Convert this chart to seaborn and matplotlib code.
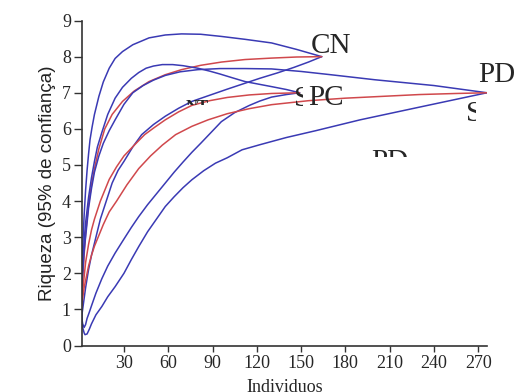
import numpy as np
import pandas as pd
import matplotlib
matplotlib.use("Agg")
import matplotlib.pyplot as plt
import seaborn as sns
from matplotlib.transforms import Bbox, TransformedBbox

# rarefaction curves (individuals, richness)
cn_x = [1, 2, 3, 4, 6, 8, 10, 13, 17, 22, 29, 37, 47, 58, 69, 82, 96, 112, 130, 147, 164]
cn_mean = [1.0, 1.8, 2.5, 3.1, 3.9, 4.45, 4.9, 5.45, 6.0, 6.4, 6.76, 7.05, 7.31, 7.5,
           7.64, 7.76, 7.85, 7.92, 7.96, 7.99, 8.0]
cn_up_x = [1, 1.5, 2, 3, 4, 5, 6, 7, 8.4, 10, 13, 16, 20, 24, 29, 36, 47, 58, 69, 82,
           96, 112, 130, 147, 164]
cn_up = [1.4, 2.0, 2.7, 3.6, 4.3, 4.85, 5.3, 5.7, 6.05, 6.4, 6.9, 7.3, 7.68, 7.95, 8.14,
         8.33, 8.52, 8.6, 8.63, 8.62, 8.56, 8.48, 8.38, 8.2, 8.0]
cn_lo_x = [1, 2, 3, 4, 6, 8, 11, 14, 18, 22, 26, 30, 36, 42, 50, 58, 67, 76, 88, 100,
           111, 122, 134, 145, 155, 164]
cn_lo = [0.7, 1.0, 1.3, 1.6, 2.1, 2.5, 3.0, 3.5, 4.0, 4.5, 4.85, 5.1, 5.5, 5.84, 6.12,
         6.35, 6.57, 6.76, 6.93, 7.1, 7.25, 7.4, 7.55, 7.7, 7.85, 8.0]

pc_x = [1, 2, 3, 4, 6, 8, 10, 14, 20, 25, 30, 37, 44, 51, 58, 67, 76, 88, 100, 115, 130, 149]
pc_mean = [1.0, 1.5, 1.9, 2.3, 2.8, 3.2, 3.5, 4.0, 4.6, 4.95, 5.25, 5.55, 5.84, 6.05,
           6.25, 6.47, 6.65, 6.78, 6.87, 6.94, 6.98, 7.0]
pc_up_x = [1, 2, 3, 4, 6, 8, 10, 12, 15, 19, 24, 29, 35, 40, 45, 50, 56, 63, 70, 80, 88,
           95, 103, 112, 121, 130, 140, 149]
pc_up = [1.3, 2.2, 2.9, 3.4, 4.1, 4.65, 5.1, 5.5, 5.9, 6.4, 6.85, 7.15, 7.4, 7.56, 7.68,
         7.74, 7.78, 7.78, 7.75, 7.68, 7.6, 7.52, 7.42, 7.31, 7.24, 7.17, 7.09, 7.0]
pc_lo_x = [1, 1.5, 2, 3, 4, 5, 6.5, 8, 11, 15, 19, 24, 30, 35, 40, 46, 52, 58, 64, 70, 76,
           82, 89, 96, 105, 115, 122, 130, 140, 149]
pc_lo = [1.0, 0.75, 0.6, 0.5, 0.58, 0.75, 0.92, 1.1, 1.45, 1.85, 2.2, 2.56, 2.95, 3.27,
         3.57, 3.9, 4.2, 4.5, 4.8, 5.08, 5.35, 5.6, 5.9, 6.2, 6.45, 6.65, 6.77, 6.88, 6.95, 7.0]

pd_x = [1, 2, 3, 4, 6, 8, 10, 13, 16, 20, 25, 32, 40, 48, 56, 65, 76, 87, 100, 115, 130,
        155, 180, 205, 230, 255, 276]
pd_mean = [1.0, 1.3, 1.6, 1.8, 2.2, 2.5, 2.75, 3.05, 3.35, 3.7, 4.0, 4.45, 4.9, 5.25, 5.55,
           5.84, 6.07, 6.25, 6.42, 6.56, 6.67, 6.78, 6.85, 6.9, 6.95, 6.98, 7.0]
pd_up_x = [1, 2, 3, 4, 6, 8, 10, 13, 16, 20, 24, 30, 36, 43, 50, 58, 68, 80, 95, 112, 130,
           150, 170, 200, 240, 276]
pd_up = [1.4, 2.0, 2.6, 3.0, 3.8, 4.35, 4.8, 5.25, 5.6, 5.95, 6.25, 6.68, 7.0, 7.2, 7.35,
         7.48, 7.58, 7.64, 7.67, 7.67, 7.66, 7.59, 7.5, 7.36, 7.2, 7.0]
pd_lo_x = [1, 1.5, 2, 3, 3.6, 5, 6.5, 8, 11, 15, 19, 24, 30, 35, 40, 46, 52, 58, 64, 70,
           76, 84, 92, 100, 110, 122, 140, 160, 190, 230, 276]
pd_lo = [1.0, 0.7, 0.5, 0.35, 0.3, 0.32, 0.45, 0.6, 0.85, 1.08, 1.35, 1.63, 2.0, 2.38,
         2.74, 3.15, 3.5, 3.85, 4.12, 4.37, 4.59, 4.84, 5.05, 5.2, 5.42, 5.56, 5.76, 5.95,
         6.25, 6.6, 7.0]

x_ticks = [30, 60, 90, 120, 150, 180, 210, 240, 270]
y_ticks = [0, 1, 2, 3, 4, 5, 6, 7, 8, 9]

red = "#d0484c"
blue = "#3a3ab4"

sns.set_style("ticks")
plt.rcParams["font.family"] = ["Liberation Serif", "DejaVu Serif"]

fig = plt.figure(figsize=(5.17, 3.92), dpi=100)
ax = fig.add_axes([0.1586, 0.1186, 0.7834, 0.829])

curves = [
    (cn_up_x, cn_up, blue), (cn_lo_x, cn_lo, blue), (cn_x, cn_mean, red),
    (pc_up_x, pc_up, blue), (pc_lo_x, pc_lo, blue), (pc_x, pc_mean, red),
    (pd_up_x, pd_up, blue), (pd_lo_x, pd_lo, blue), (pd_x, pd_mean, red),
]
for xs, ys, c in curves:
    sns.lineplot(x=xs, y=ys, color=c, linewidth=1.1, sort=False, ax=ax)

ax.set_xlim(1.56, 276)
ax.set_ylim(0, 9)
ax.set_xticks(x_ticks)
ax.set_yticks(y_ticks)
ax.tick_params(axis="y", length=6, width=1, labelsize=13, color="#333333", pad=2)
ax.tick_params(axis="x", length=4, width=1, labelsize=13, color="#333333", pad=3)
for s in ["top", "right"]:
    ax.spines[s].set_visible(False)
for s in ["left", "bottom"]:
    ax.spines[s].set_color("#333333")
    ax.spines[s].set_linewidth(1.2)

ax.set_xlabel("Individuos", fontsize=13, labelpad=5)
ax.set_ylabel("Riqueza (95% de confiança)", fontsize=13.5, color="#222222",
              family=["Liberation Sans", "DejaVu Sans"], labelpad=4)

# site labels
ax.text(156.5, 8.1, "CN", fontsize=21, clip_on=False)
ax.text(155, 6.67, "PC", fontsize=21, clip_on=False)
ax.text(270, 7.3, "PD", fontsize=21, clip_on=False)


def clipped(x, y, s, box, size=21, weight="normal"):
    t = ax.text(x, y, s, fontsize=size, fontweight=weight)
    t.set_clip_box(TransformedBbox(Bbox.from_extents(*box), ax.transData))
    t.set_clip_on(True)


# partly hidden labels
clipped(145.5, 6.64, "S", (140, 6.0, 151.5, 7.5))
clipped(261.7, 6.22, "S", (255, 5.8, 268.5, 7.0))
clipped(197.4, 4.9, "PD", (190, 5.23, 230, 6.0))
clipped(72, 6.5, "NT", (65, 6.67, 90, 7.0), size=12, weight="bold")

fig.savefig("out.png", dpi=100)
